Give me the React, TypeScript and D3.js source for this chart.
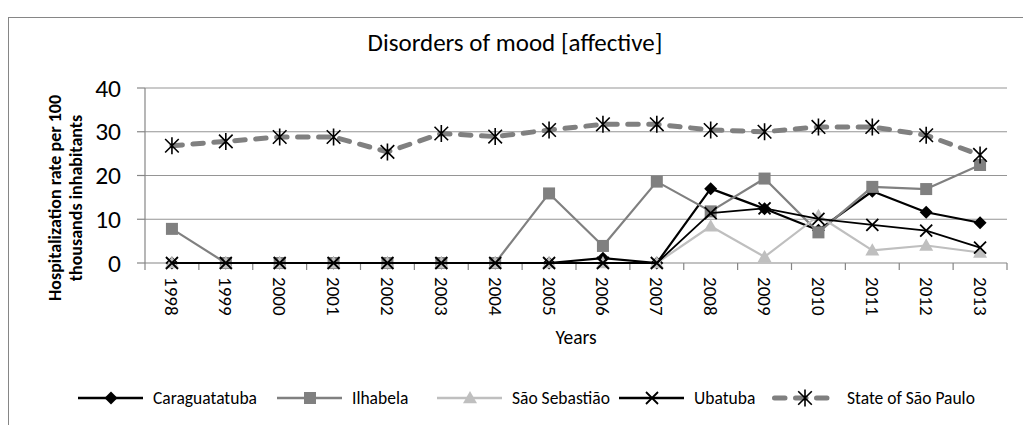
import React from 'react';
import * as d3 from 'd3';

// chart values
const years = ['1998', '1999', '2000', '2001', '2002', '2003', '2004', '2005', '2006', '2007', '2008', '2009', '2010', '2011', '2012', '2013'];
const caraguatatuba = [0, 0, 0, 0, 0, 0, 0, 0, 1.1, 0, 17.0, 12.4, 7.5, 16.4, 11.6, 9.2];
const ilhabela = [7.8, 0, 0, 0, 0, 0, 0, 15.9, 3.9, 18.6, 11.8, 19.3, 7.0, 17.4, 16.9, 22.4];
const saoSebastiao = [0, 0, 0, 0, 0, 0, 0, 0, 0, 0, 8.4, 1.4, 10.8, 2.9, 4.0, 2.4];
const ubatuba = [0, 0, 0, 0, 0, 0, 0, 0, 0, 0, 11.4, 12.5, 10.1, 8.7, 7.4, 3.5];
const stateSP = [26.8, 27.8, 28.8, 28.8, 25.4, 29.6, 28.9, 30.4, 31.7, 31.7, 30.4, 30.0, 31.1, 31.1, 29.2, 24.7];
const yTicks = [0, 10, 20, 30, 40];

const FONT = "Carlito, 'Open Sans', sans-serif";

type Marker = 'diamond' | 'square' | 'triangle' | 'x' | 'star';

const series: {name: string, values: number[], color: string, width: number, dash?: string, marker: Marker}[] = [
  {name: 'Caraguatatuba', values: caraguatatuba, color: '#000', width: 2.2, marker: 'diamond'},
  {name: 'Ilhabela', values: ilhabela, color: '#808080', width: 2.2, marker: 'square'},
  {name: 'São Sebastião', values: saoSebastiao, color: '#bfbfbf', width: 2.2, marker: 'triangle'},
  {name: 'Ubatuba', values: ubatuba, color: '#000', width: 1.8, marker: 'x'},
  {name: 'State of São Paulo', values: stateSP, color: '#808080', width: 5, dash: '10.5 10.5', marker: 'star'},
];

function MarkerShape({type, x, y, color}: {type: Marker, x: number, y: number, color: string}) {
  if (type === 'diamond') {
    const r = 6.5;
    return <path d={`M${x},${y - r}L${x + r},${y}L${x},${y + r}L${x - r},${y}Z`} fill="#000" />;
  }
  if (type === 'square') {
    const r = 6;
    return <rect x={x - r} y={y - r} width={2 * r} height={2 * r} fill={color} />;
  }
  if (type === 'triangle') {
    const r = 7;
    return <path d={`M${x},${y - r}L${x + r},${y + r * 0.75}L${x - r},${y + r * 0.75}Z`} fill={color} />;
  }
  if (type === 'x') {
    const r = 6;
    return <path d={`M${x - r},${y - r}L${x + r},${y + r}M${x - r},${y + r}L${x + r},${y - r}`} stroke="#000" strokeWidth={1.8} fill="none" />;
  }
  const r = 8.5;
  return <path d={`M${x - r * 0.8},${y - r * 0.8}L${x + r * 0.8},${y + r * 0.8}M${x - r * 0.8},${y + r * 0.8}L${x + r * 0.8},${y - r * 0.8}M${x},${y - r}L${x},${y + r}`} stroke="#000" strokeWidth={1.6} fill="none" />;
}

export default function App() {
  const left = 145, right = 1007, top = 88, bottom = 263;

  const x = d3.scaleBand<string>().domain(years).range([left, right]).padding(0);
  const bw = x.bandwidth();
  const cx = (yr: string) => (x(yr) as number) + bw / 2;
  const y = d3.scaleLinear().domain([0, 40]).range([bottom, top]);

  const line = d3.line<number>()
    .x((d, i) => cx(years[i]))
    .y(d => y(d));

  const legendX = [78, 277, 437, 619, 772];

  return (
    <svg width={1023} height={425} style={{position: 'absolute', left: 0, top: 0, background: '#fff'}} fontFamily={FONT}>
      <rect x={8.5} y={17.5} width={1100} height={500} fill="#fff" stroke="#868686" strokeWidth={1} />

      <text x={515} y={42} textAnchor="middle" dominantBaseline="central" fontSize={25} fill="#000">Disorders of mood [affective]</text>

      {/* gridlines */}
      {yTicks.map(t => (
        <g key={t}>
          {t > 0 && <line x1={left} x2={right} y1={y(t)} y2={y(t)} stroke="#959595" strokeWidth={1.2} />}
          <line x1={left - 8} x2={left} y1={y(t)} y2={y(t)} stroke="#868686" strokeWidth={1.2} />
          <text x={121} y={y(t)} textAnchor="end" dominantBaseline="central" fontSize={25.5} fill="#000">{t}</text>
        </g>
      ))}

      {/* axes */}
      <line x1={left} x2={left} y1={top} y2={bottom} stroke="#868686" strokeWidth={1.2} />
      <line x1={left} x2={right} y1={bottom} y2={bottom} stroke="#868686" strokeWidth={1.2} />
      {years.map(yr => (
        <line key={'t' + yr} x1={x(yr) as number} x2={x(yr) as number} y1={bottom} y2={bottom + 7} stroke="#868686" strokeWidth={1.2} />
      ))}
      <line x1={right} x2={right} y1={bottom} y2={bottom + 7} stroke="#868686" strokeWidth={1.2} />

      {years.map(yr => (
        <text key={'l' + yr} transform={`translate(${cx(yr)},277) rotate(90)`} dominantBaseline="central" fontSize={19} fill="#000">{yr}</text>
      ))}

      <text x={(left + right) / 2} y={337} textAnchor="middle" dominantBaseline="central" fontSize={19.5} fill="#000">Years</text>

      <text transform="translate(55,198) rotate(-90)" textAnchor="middle" dominantBaseline="central" fontSize={18} fontWeight="bold" fill="#000">Hospitalization rate per 100</text>
      <text transform="translate(76,198) rotate(-90)" textAnchor="middle" dominantBaseline="central" fontSize={18} fontWeight="bold" fill="#000">thousands inhabitants</text>

      {/* series */}
      {series.map(s => (
        <g key={s.name}>
          <path d={line(s.values) || ''} fill="none" stroke={s.color} strokeWidth={s.width} strokeDasharray={s.dash} strokeLinecap={s.dash ? 'round' : 'butt'} strokeLinejoin="round" />
          {s.values.map((v, i) => (
            <MarkerShape key={i} type={s.marker} x={cx(years[i])} y={y(v)} color={s.color} />
          ))}
        </g>
      ))}

      {/* legend */}
      {series.map((s, i) => {
        const lx = legendX[i];
        const ly = 398;
        return (
          <g key={'lg' + s.name}>
            <line x1={lx + (s.dash ? 2.5 : 0)} x2={lx + 65} y1={ly} y2={ly} stroke={s.color} strokeWidth={s.dash ? 5 : 2.5} strokeDasharray={s.dash ? '10.5 10.5' : undefined} strokeLinecap={s.dash ? 'round' : 'butt'} />
            <MarkerShape type={s.marker} x={lx + 33} y={ly} color={s.color} />
            <text x={lx + 75} y={ly} dominantBaseline="central" fontSize={17.5} fill="#000">{s.name}</text>
          </g>
        );
      })}
    </svg>
  );
}
